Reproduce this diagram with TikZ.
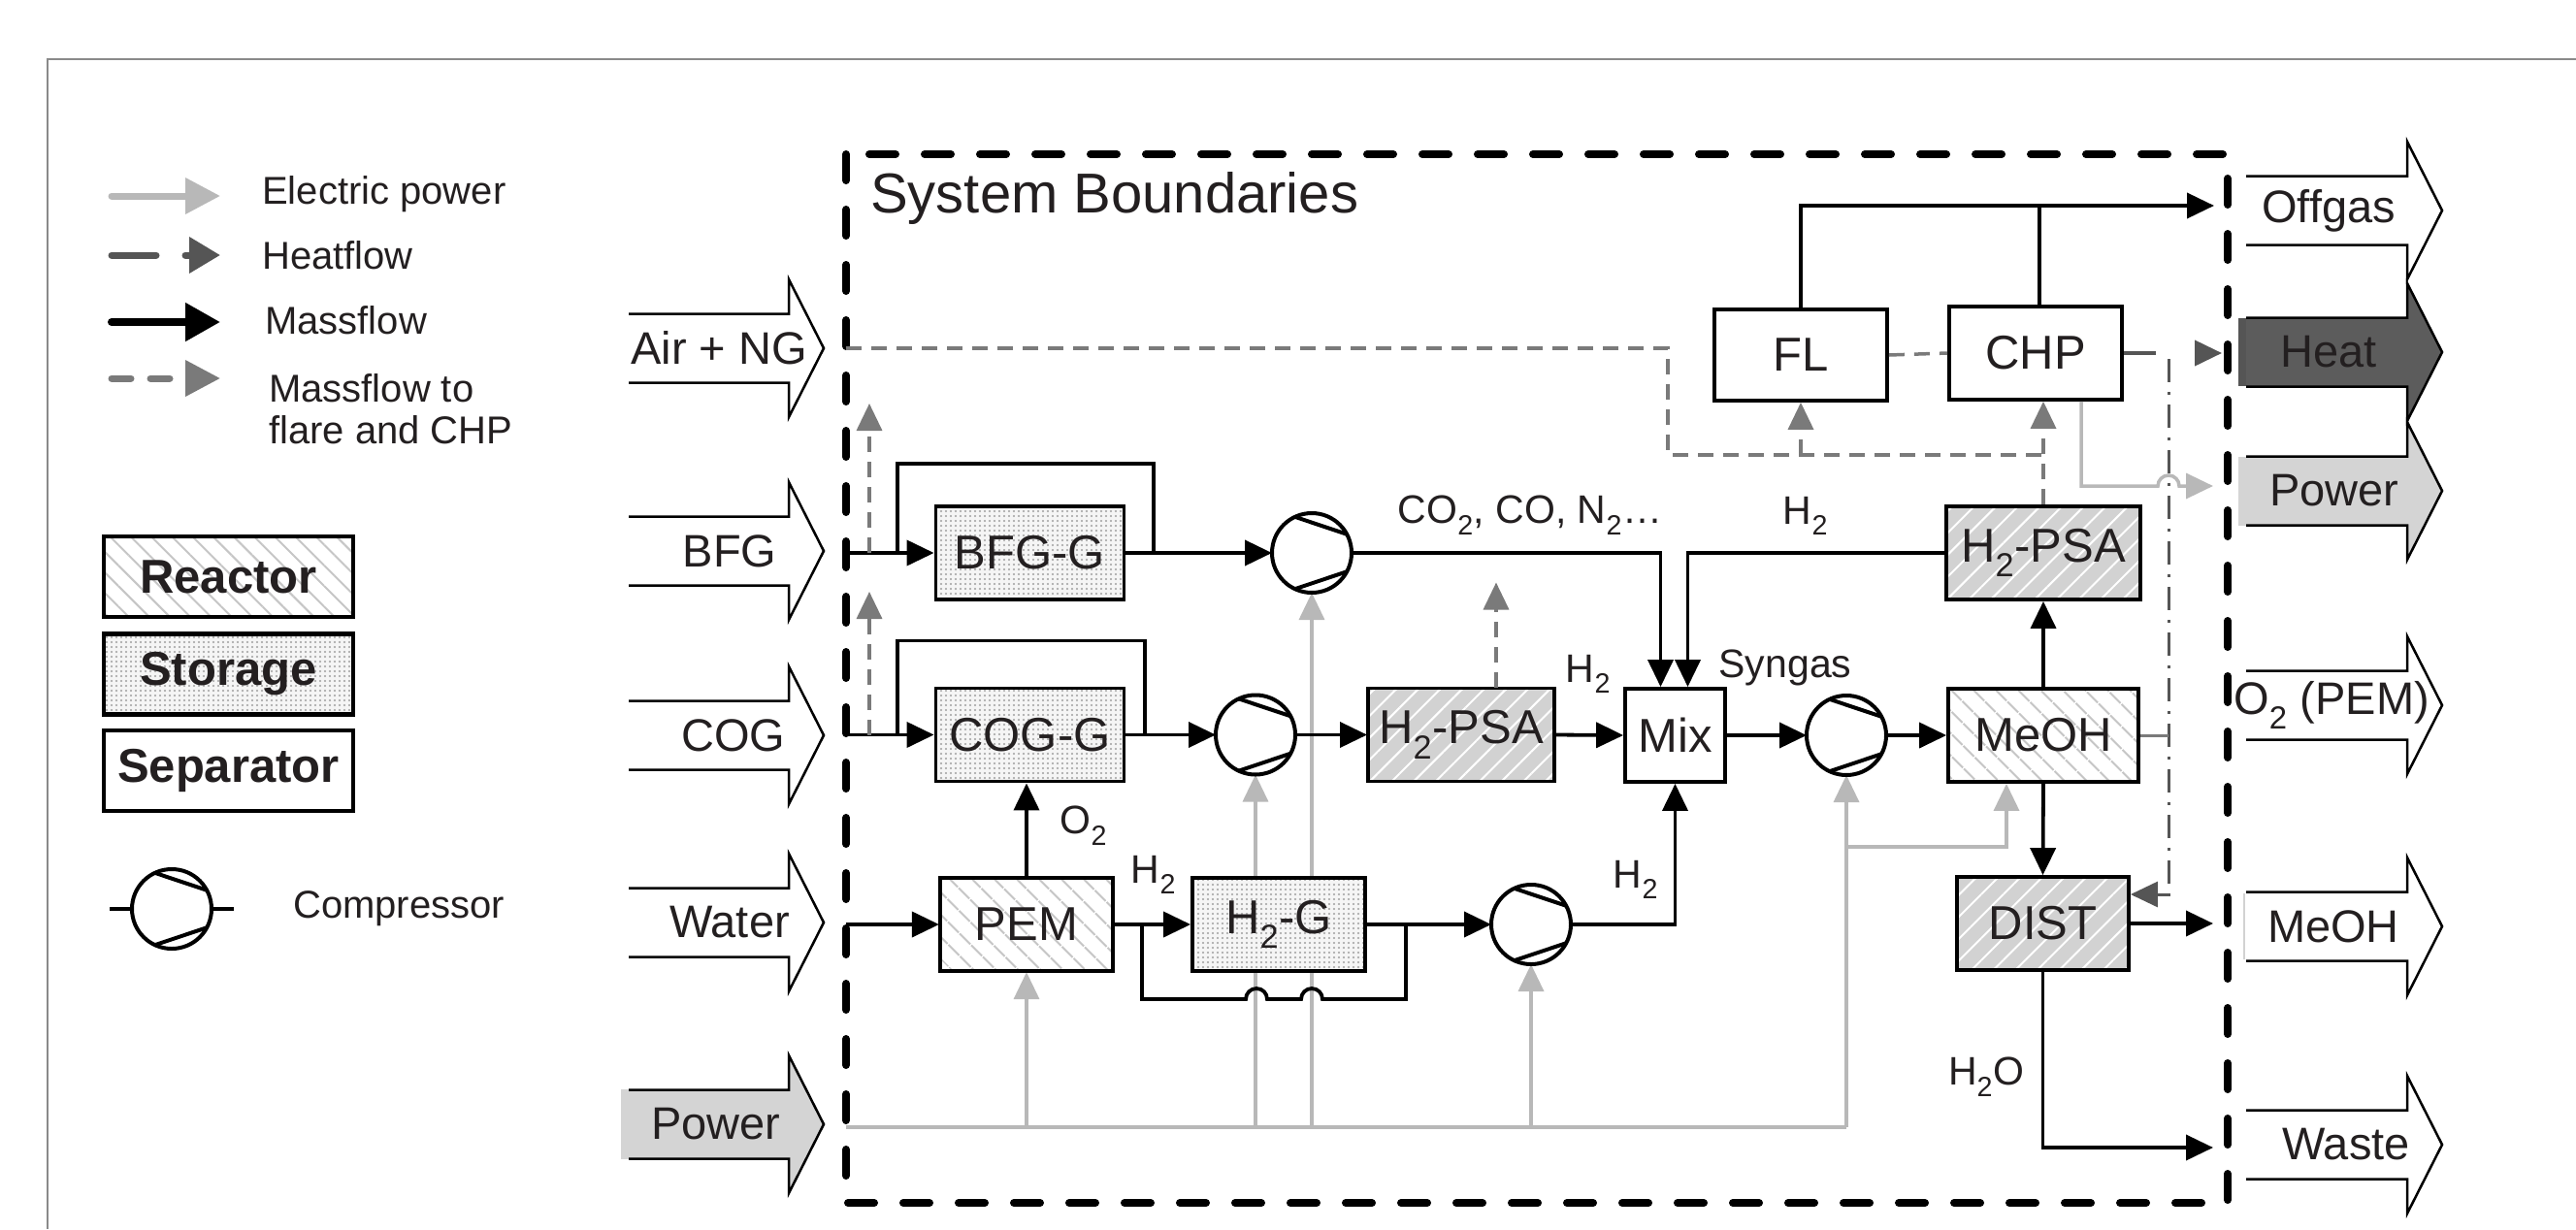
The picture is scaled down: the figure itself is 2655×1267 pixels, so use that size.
\documentclass[tikz,border=0pt]{standalone}
\usepackage{fontspec}
\setmainfont{Liberation Sans}
\usetikzlibrary{arrows.meta,patterns.meta,backgrounds}
\definecolor{elecc}{HTML}{B8B8B8}
\definecolor{heatc}{HTML}{555555}
\definecolor{flarec}{HTML}{7A7A7A}
\definecolor{txt}{HTML}{231F20}
\definecolor{framec}{HTML}{8A8A8A}
\definecolor{psafill}{HTML}{D2D2D2}
\definecolor{powfill}{HTML}{D4D4D4}
\definecolor{heatfill}{HTML}{5C5C5C}
\newcommand\myfs[1]{\fontsize{#1pt}{#1pt}\selectfont}
\newcommand\compchords[1]{\draw[line width=4pt] (#1.115) -- (#1.28) (#1.-115) -- (#1.-28);}
\begin{document}
\begin{tikzpicture}[x=1pt,y=-1pt,
  tip/.style={-{Triangle[length=28pt,width=26pt]}},
  massline/.style={black,line width=3.8pt},
  mass/.style={massline,tip},
  elecline/.style={elecc,line width=3.5pt},
  elec/.style={elecline,tip},
  flareline/.style={flarec,line width=3.5pt,dash pattern=on 16pt off 10pt},
  flare/.style={flareline,tip},
  heatline/.style={heatc,line width=3pt,dash pattern=on 24pt off 10pt on 3pt off 10pt},
  box/.style={draw=black,line width=3.8pt,inner sep=0pt,minimum height=96pt,text=txt,font=\myfs{49}},
  storage/.style={box,preaction={fill=gray!8},pattern={Dots[radius=1.1pt,distance=5pt]},pattern color=gray!75},
  reactor/.style={box,preaction={fill=white},pattern={Lines[angle=-45,distance=17pt,line width=2.2pt]},pattern color=gray!45},
  psa/.style={box,preaction={fill=psafill},pattern={Lines[angle=45,distance=16pt,line width=2pt]},pattern color=white},
  sepbox/.style={box,fill=white},
  comp/.style={circle,draw=black,line width=4pt,minimum size=82pt,inner sep=0pt,outer sep=0pt,fill=white},
  lab/.style={text=txt,font=\myfs{41},inner sep=0pt},
  io/.style={text=txt,font=\myfs{47},inner sep=0pt},
  leg/.style={text=txt,font=\myfs{40},inner sep=0pt,anchor=west,align=left},
  legbox/.style={line width=4.5pt,inner sep=0pt,minimum width=257pt,minimum height=83pt,text=txt,font=\myfs{49}\bfseries},
  barrow/.style={draw=black,line width=2.5pt,line join=miter}
]
\useasboundingbox (0,0) rectangle (2655,1267);

% outer frame
\draw[framec,line width=2pt] (49,1267) -- (49,61) -- (2655,61);

% ---------------- legend ----------------
\coordinate (le1a) at (115,202); \coordinate (le1b) at (227,202);
\coordinate (le2a) at (115,263); \coordinate (le2b) at (227,263);
\coordinate (le3a) at (115,332); \coordinate (le3b) at (227,332);
\coordinate (le4a) at (115,390); \coordinate (le4b) at (227,390);
\draw[elecc,line width=7pt,line cap=round,-{Triangle[length=36pt,width=36pt]}] (le1a) -- (le1b);
\draw[heatc,line width=7pt,line cap=round,dash pattern=on 46pt off 30pt,-{Triangle[length=32pt,width=36pt]}] (le2a) -- (le2b);
\draw[black,line width=8pt,line cap=round,-{Triangle[length=36pt,width=38pt]}] (le3a) -- (le3b);
\draw[flarec,line width=7pt,line cap=round,dash pattern=on 20pt off 20pt,-{Triangle[length=36pt,width=36pt]}] (le4a) -- (le4b);
\node[leg] (lt1) at (270,200) {Electric power};
\node[leg] (lt2) at (270,263) {Heatflow};
\node[leg] (lt3) at (273,330) {Massflow};
\node[leg] (lt4) at (277,422) {Massflow to\\[3pt]flare and CHP};

\node[legbox,draw,preaction={fill=white},pattern={Lines[angle=-45,distance=15pt,line width=2pt]},pattern color=gray!45] (lreact) at (235.5,594.5) {Reactor};
\node[legbox,draw,preaction={fill=gray!8},pattern={Dots[radius=1.1pt,distance=5pt]},pattern color=gray!75] (lstor) at (235.5,695) {Storage};
\node[legbox,draw,fill=white] (lsep) at (235.5,794.5) {Separator};

\node[comp] (lcomp) at (177,937) {};
\compchords{lcomp}
\coordinate (lca) at (113,937); \coordinate (lcb) at (241,937);
\draw[line width=4pt] (lca) -- (lcomp.west) (lcomp.east) -- (lcb);
\node[leg] (lt5) at (302,937) {Compressor};

% ---------------- input block arrows ----------------
\fill[powfill] (640,1123) rectangle (813,1195);
\fill[powfill] (813,1088) -- (849,1159) -- (813,1230) -- cycle;
\foreach \yy in {359,568,758,951,1159}{
  \draw[barrow] (648,\yy-35.5) -- (813,\yy-35.5) -- (813,\yy-71) -- (849,\yy) -- (813,\yy+71) -- (813,\yy+35.5) -- (648,\yy+35.5);
}
\node[io] (iair) at (741,359) {Air + NG};
\node[io] (ibfg) at (752,568) {BFG};
\node[io] (icog) at (756,758) {COG};
\node[io] (iwat) at (752,951) {Water};
\node[io] (ipow) at (738,1159) {Power};

% ---------------- output block arrows ----------------
\fill[heatfill] (2307,328) rectangle (2481,398);
\fill[heatfill] (2481,293) -- (2517,363) -- (2481,433) -- cycle;
\fill[heatc] (2307,328) rectangle (2315,398);
\fill[powfill] (2307,470.5) rectangle (2481,541.5);
\fill[powfill] (2481,435) -- (2517,506) -- (2481,577) -- cycle;
\foreach \yy in {217,363,506,727,955,1180}{
  \draw[barrow] (2315,\yy-35.5) -- (2481,\yy-35.5) -- (2481,\yy-71) -- (2517,\yy) -- (2481,\yy+71) -- (2481,\yy+35.5) -- (2315,\yy+35.5);
}
\draw[gray!35,line width=2pt] (2313,921) -- (2313,989);
\node[io] (ooff) at (2400,217) {Offgas};
\node[io] (oheat) at (2400,363) {Heat};
\node[io] (opow) at (2406,506) {Power};
\node[io] (oo2) at (2403,727) {O\textsubscript{2} (PEM)};
\node[io] (omeoh) at (2405,955) {MeOH};
\node[io] (owaste) at (2418,1180) {Waste};

% ---------------- system boundary ----------------
\draw[line width=8pt,dash pattern=on 27pt off 30pt,line cap=round] (872,159) rectangle (2296,1240);
\node[text=txt,font=\myfs{58},inner sep=0pt,anchor=base west] (sysb) at (897,219) {System Boundaries};

% ---------------- units ----------------
\node[storage,minimum width=194pt] (bfgg) at (1061.5,570) {BFG-G};
\node[storage,minimum width=194pt] (cogg) at (1061.5,757.5) {COG-G};
\node[reactor,minimum width=178pt] (pem) at (1058,953) {PEM};
\node[storage,minimum width=178pt] (h2g) at (1318,953) {H\textsubscript{2}-G};
\node[psa,minimum width=192pt] (psa1) at (1506,757.5) {H\textsubscript{2}-PSA};
\node[sepbox,minimum width=103pt] (mix) at (1726.5,758) {Mix};
\node[reactor,minimum width=196pt] (meoh) at (2106,758) {MeOH};
\node[psa,minimum width=200pt] (psa2) at (2106,570) {H\textsubscript{2}-PSA};
\node[psa,minimum width=177pt] (dist) at (2105.5,952) {DIST};
\node[sepbox,minimum width=178pt,minimum height=94pt] (fl) at (1856,366) {FL};
\node[sepbox,minimum width=178pt] (chp) at (2098,364) {CHP};

\node[comp] (c1) at (1352,570) {}; \compchords{c1}
\node[comp] (c2) at (1294,757.5) {}; \compchords{c2}
\node[comp] (c3) at (1578,953) {}; \compchords{c3}
\node[comp] (c4) at (1903,758) {}; \compchords{c4}

% ---------------- electric power (behind units) ----------------
\coordinate (powb) at (872,1162);
\coordinate (pbr) at (1903,873);
\begin{pgfonlayer}{background}
\draw[elecline,line width=4.5pt] (powb) -- (powb -| c4.south);
\draw[elec] (powb -| c4.south) -- (c4.south);
\draw[elec] (pbr) -| ([xshift=-38pt]meoh.south);
\draw[elec] (powb -| pem.south) -- (pem.south);
\draw[elec] (powb -| c2.south) -- (c2.south);
\draw[elec] (powb -| c1.south) -- (c1.south);
\draw[elec] (powb -| c3.south) -- (c3.south);
\end{pgfonlayer}

% ---------------- massflow ----------------
% BFG row
\coordinate (bfgb) at (872,570);
\coordinate (bb1) at (925,570);
\coordinate (bb2) at (1189,570);
\draw[mass] (bfgb) -- (bfgg.west);
\draw[massline] (bb1) -- ++(0,-92) -| (bb2);
\draw[mass] (bfgg.east) -- (c1.west);
\draw[mass] (c1.east) -| ([xshift=-15pt]mix.north);
\draw[mass] (psa2.west) -| ([xshift=13pt]mix.north);
% COG row
\coordinate (cogb) at (872,757.5);
\coordinate (cb1) at (925,757.5);
\coordinate (cb2) at (1180,757.5);
\draw[mass] (cogb) -- (cogg.west);
\draw[massline] (cb1) -- ++(0,-97) -| (cb2);
\draw[mass] (cogg.east) -- (c2.west);
\draw[mass] (c2.east) -- (psa1.west);
\draw[mass] (psa1.east) -- (mix.west);
\draw[mass] (mix.east) -- (c4.west);
\draw[mass] (c4.east) -- (meoh.west);
\draw[mass] (meoh.north) -- (psa2.south);
\draw[mass] (meoh.south) -- (dist.north);
% water row
\coordinate (watb) at (872,953);
\coordinate (wb1) at (1177,953);
\coordinate (wb2) at (1449,953);
\draw[mass] (watb) -- (pem.west);
\draw[mass] (pem.north) -- (pem.north |- cogg.south);
\draw[mass] (pem.east) -- (h2g.west);
\draw[mass] (h2g.east) -- (c3.west);
\draw[mass] (c3.east) -| (mix.south);
\draw[massline] (wb1) -- ++(0,77) -- (1284,1030) arc[start angle=180,end angle=0,radius=11pt] -- (1341,1030) arc[start angle=180,end angle=0,radius=11pt] -| (wb2);
% offgas
\coordinate (offin) at (2282,212);
\draw[mass] (fl.north) |- (offin);
\draw[massline] ([xshift=4pt]chp.north) -- ([xshift=4pt]chp.north |- offin);
% DIST outputs
\coordinate (meohout) at (2281,952);
\coordinate (wasteout) at (2281,1183);
\draw[mass] (dist.east) -- (meohout);
\draw[mass] (dist.south) |- (wasteout);

% ---------------- massflow to flare and CHP ----------------
\coordinate (airb) at (872,359);
\coordinate (fj) at (1719,469);
\draw[flareline] (airb) -| (fj) -- (fj -| psa2.north);
\draw[flare] (fl.south |- fj) -- (fl.south);
\draw[flare] (psa2.north) -- (psa2.north |- chp.south);
\draw[flareline] (fl.east) -- (chp.west);
\coordinate (g1a) at (896,757.5); \coordinate (g1b) at (896,610);
\coordinate (g2a) at (896,570); \coordinate (g2b) at (896,416);
\draw[flare] (g1a) -- (g1b);
\draw[flare] (g2a) -- (g2b);
\draw[flare] ([xshift=36pt]psa1.north) -- ++(0,-108);

% ---------------- heat ----------------
\coordinate (heatin) at (2290,364);
\coordinate (hv) at (2235,370);
\draw[heatc,line width=4pt,dash pattern=on 33pt off 100pt,tip] (chp.east) -- (heatin);
\draw[heatline] (hv) |- ([yshift=30pt]dist.east);
\draw[heatc,line width=3pt,-{Triangle[length=28pt,width=26pt]}] ([yshift=30pt]dist.east -| hv) -- ([yshift=30pt]dist.east);
\draw[flarec,line width=3pt] (meoh.east) -- (meoh.east -| hv);

% CHP electric power out
\coordinate (powout) at (2281,501);
\draw[elec] ([xshift=47pt]chp.south) |- (2224,501) arc[start angle=180,end angle=0,radius=11pt] -- (powout);

% ---------------- labels ----------------
\node[lab] (l1) at (1577,531) {CO\textsubscript{2}, CO, N\textsubscript{2}…};
\node[lab] (l2) at (1861,532) {H\textsubscript{2}};
\node[lab] (l3) at (1637,695) {H\textsubscript{2}};
\node[lab] (l4) at (1840,688) {Syngas};
\node[lab] (l5) at (1117,851) {O\textsubscript{2}};
\node[lab] (l6) at (1189,902) {H\textsubscript{2}};
\node[lab] (l7) at (1686,907) {H\textsubscript{2}};
\node[lab] (l8) at (2047,1110) {H\textsubscript{2}O};
\end{tikzpicture}
\end{document}
